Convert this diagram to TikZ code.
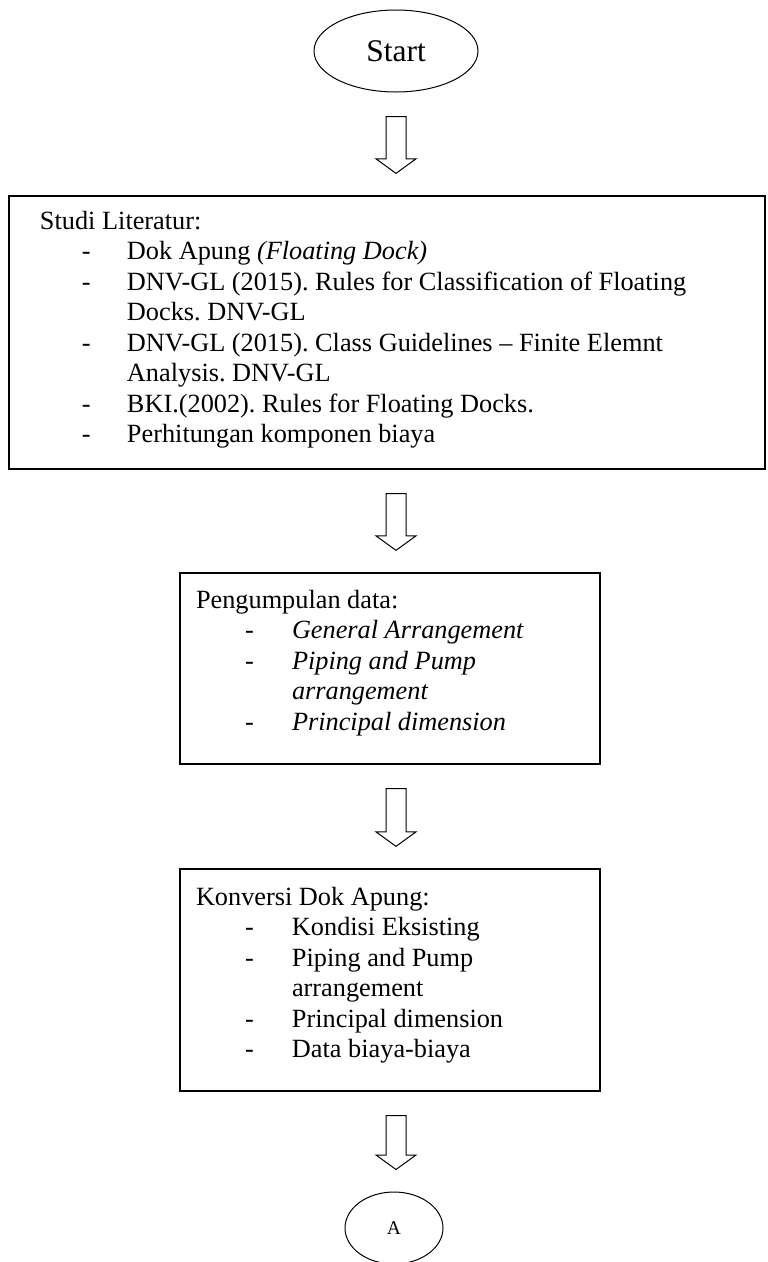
\documentclass[tikz,border=0pt]{standalone}
\usepackage{fontspec}
\setmainfont{Liberation Serif}
\usepackage{tikz}
\usetikzlibrary{calc}
\usetikzlibrary{shapes.geometric}
\newcommand{\boxline}{1.3pt}
\newcommand{\boxfont}{\fontsize{26.3}{30.5}\selectfont\frenchspacing}
\newcommand{\dashrow}[3]{\hspace*{#1}\makebox[#2][l]{-}#3}
\tikzset{terminal/.style={ellipse, draw, line width=1pt, inner sep=0pt}}
\tikzset{procbox/.style={rectangle, draw, line width=\boxline, inner sep=0pt}}
\tikzset{hollowarrow/.style={draw, line width=1pt, line join=miter}}
\newcommand{\hollowdown}[2]{%
  \draw[hollowarrow] let \p1=(start.south |- #1.south), \p2=(start.south |- #2.north) in
    (\x1-10pt,\y1-24pt) -- (\x1+10pt,\y1-24pt) -- (\x1+10pt,\y2+36.5pt) -- (\x1+20pt,\y2+36.5pt)
    -- (\x1,\y2+22pt) -- (\x1-20pt,\y2+36.5pt) -- (\x1-10pt,\y2+36.5pt) -- cycle;}

\begin{document}
\begin{tikzpicture}[x=1pt, y=1pt]

\useasboundingbox (0,0) rectangle (768,-1262);

\node[terminal, minimum width=164pt, minimum height=82pt, font=\fontsize{31.5}{37}\selectfont] (start) at (396,-51) {Start};

\node[procbox] (studi) at (387,-332.5) {\parbox[c][273pt][t]{756pt}{\boxfont
\rule{0pt}{33pt}\hspace*{31pt}Studi Literatur:\\
\dashrow{73pt}{45pt}{Dok Apung \textit{(Floating Dock)}}\\
\dashrow{73pt}{45pt}{DNV-GL (2015). Rules for Classification of Floating}\\
\hspace*{118pt}Docks. DNV-GL\\
\dashrow{73pt}{45pt}{DNV-GL (2015). Class Guidelines -- Finite Elemnt}\\
\hspace*{118pt}Analysis. DNV-GL\\
\dashrow{73pt}{45pt}{BKI.(2002). Rules for Floating Docks.}\\
\dashrow{73pt}{45pt}{Perhitungan komponen biaya}}};

\node[procbox] (data) at (390,-668.5) {\parbox[c][191pt][t]{420pt}{\boxfont
\rule{0pt}{35pt}\hspace*{16pt}Pengumpulan data:\\
\dashrow{65pt}{47pt}{\textit{General Arrangement}}\\
\dashrow{65pt}{47pt}{\textit{Piping and Pump}}\\
\hspace*{112pt}\textit{arrangement}\\
\dashrow{65pt}{47pt}{\textit{Principal dimension}}}};

\node[procbox] (konversi) at (390,-980) {\parbox[c][222pt][t]{420pt}{\boxfont
\rule{0pt}{36pt}\hspace*{16pt}Konversi Dok Apung:\\
\dashrow{65pt}{47pt}{Kondisi Eksisting}\\
\dashrow{65pt}{47pt}{Piping and Pump}\\
\hspace*{112pt}arrangement\\
\dashrow{65pt}{47pt}{Principal dimension}\\
\dashrow{65pt}{47pt}{Data biaya-biaya}}};

\node[terminal, minimum width=98pt, minimum height=72pt, font=\fontsize{19.5}{23}\selectfont] (conA) at (394,-1228) {A};

\hollowdown{start}{studi}
\hollowdown{studi}{data}
\hollowdown{data}{konversi}
\hollowdown{konversi}{conA}

\end{tikzpicture}
\end{document}
